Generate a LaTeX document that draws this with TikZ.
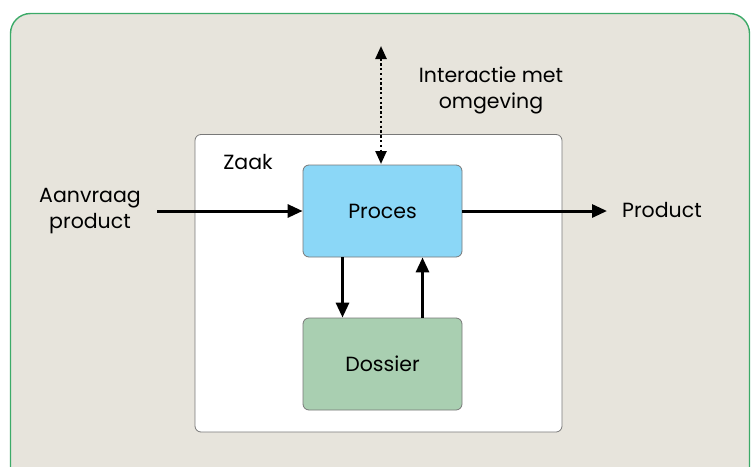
\documentclass[tikz,border=0pt]{standalone}
\usepackage{fontspec}
\setmainfont{Poppins}
\usetikzlibrary{arrows.meta, positioning}

\definecolor{bgbeige}{RGB}{231,228,220}
\definecolor{rimgreen}{RGB}{60,170,104}
\definecolor{procblue}{RGB}{139,215,247}
\definecolor{dossgreen}{RGB}{169,207,177}
\definecolor{edgegray}{RGB}{120,120,120}

\begin{document}
\begin{tikzpicture} [
            x=1pt, y=-1pt,
            font=\fontsize{20.5}{26}\selectfont,
            block/.style = { rectangle, draw=edgegray, thick, text centered,
                             rounded corners=6pt, minimum width=159pt,
                             minimum height=92pt },
            label/.style = { align=center, inner sep=0pt },
            line/.style  = { draw, line width=3pt,
                             -{Triangle[length=15pt, width=13pt]} },
            dots/.style  = { draw, line width=2.4pt,
                             dash pattern=on 2.4pt off 2.4pt,
                             {Triangle[length=13pt, width=11pt]}-{Triangle[length=13pt, width=11pt]} },
          ]
          \useasboundingbox (0,0) rectangle (754,466);
          \clip (0,0) rectangle (754,466);

          % background panel and case frame
          \draw [rimgreen, line width=1.4pt, fill=bgbeige, rounded corners=20pt]
                (10.5,13.5) rectangle (749.5,520);
          \draw [edgegray, thick, fill=white, rounded corners=6pt]
                (195,134.5) rectangle (562,432);
          \node (zaak) [label] at (248,162) {Zaak};

          \node (proces)  [block, fill=procblue]  at (382.5,211) {Proces};
          \node (dossier) [block, fill=dossgreen] at (382.5,364) {Dossier};

          \node (aanvraag) [label] at (90,211) {Aanvraag\\product};
          \node (product)  [label, anchor=west] at (622,210) {Product};
          \node (omgeving) [label] at (491,90) {Interactie met\\omgeving};

          \coordinate (inStart) at (157,211);
          \coordinate (outEnd)  at (607,211);
          \coordinate (envTop)  at (381,46);
          \coordinate (envBot)  at (381,164);

          \draw [line] (inStart) -- (proces.west);
          \draw [line] (proces.east) -- (outEnd);
          \draw [line] ([xshift=-40pt]proces.south) -- ([xshift=-40pt]dossier.north);
          \draw [line] ([xshift=40pt]dossier.north) -- ([xshift=40pt]proces.south);
          \draw [dots] (envTop) -- (envBot);
        \end{tikzpicture}
\end{document}
